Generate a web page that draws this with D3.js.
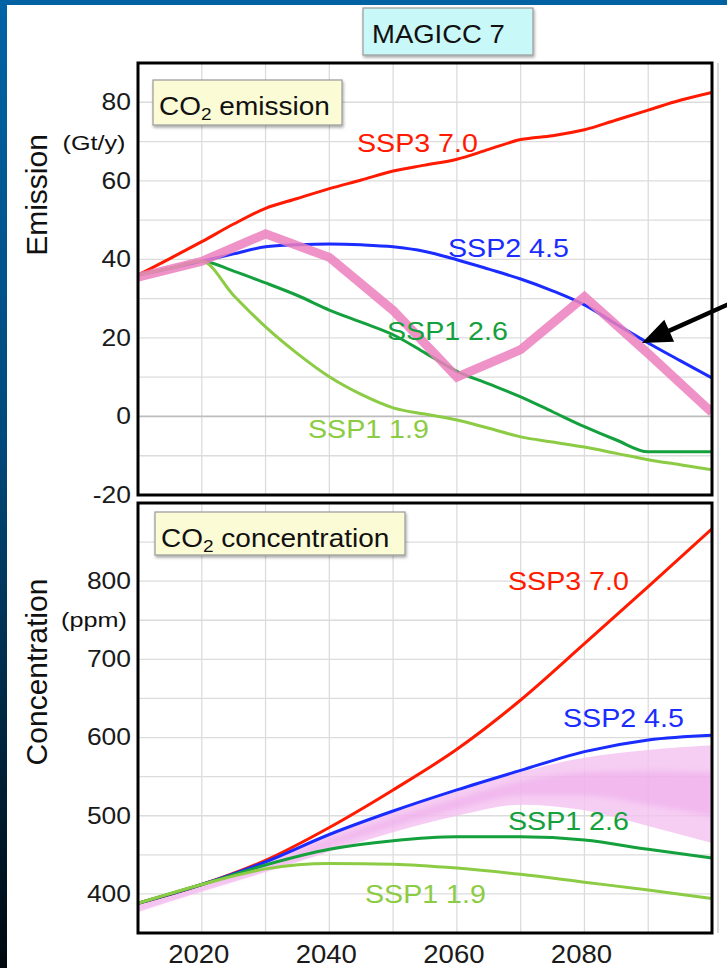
<!DOCTYPE html>
<html><head><meta charset="utf-8">
<script src="https://cdn.jsdelivr.net/npm/d3@7"></script>
<style>html,body{margin:0;padding:0;background:#fff}svg{display:block}text{font-family:"Liberation Sans",Arial,Helvetica,sans-serif}</style>
</head><body>
<svg id="c" width="727" height="968"></svg>
<script>
// ---------- data ----------
const emisYears = [2010,2015,2020,2025,2030,2035,2040,2045,2050,2055,2060,2065,2070,2075,2080,2085,2090,2095,2100];
const ssp370E = [36,40.2,44.5,49,53,55.5,58,60.2,62.5,64,65.5,68,70.5,71.5,73,75.5,78,80.5,82.5];
const ssp245E = [36,37.7,39.5,41.4,43.2,43.7,43.9,43.7,43.2,42,39.9,37.5,35,32,28.4,23.5,18.7,14.2,9.8];
const ssp126E = [36,37.7,39.5,37,34,30.8,27.1,24,20.8,16.2,11.5,8.3,5,1.2,-2.6,-6,-9,-9,-9];
const ssp119E = [36,37.7,39.5,30.8,22.8,16,10.1,5.6,2.2,0.6,-0.9,-3,-5.2,-6.5,-7.8,-9.4,-11,-12.3,-13.6];
const pinkYears = [2010,2020,2030,2040,2050,2060,2070,2080,2090,2100];
const pinkE = [35.5,39.5,46.5,40.5,27,10,17,30.5,16,1];

const concYears = [2010,2020,2030,2040,2050,2060,2070,2080,2090,2100];
const ssp370C = [388,412,443,485,533,585,648,720,793,867];
const ssp245C = [388,412,441,476,506,533,558,582,597,603];
const ssp126C = [388,412,437,457,468,473,473,469,457,446];
const ssp119C = [388,412,432,439,438,433,425,415,405,394];
const bandUpper = [388,411,440,476,505,531,556,574,584,590];
const bandLower = [377,403,428,454,479,500,514,507,487,465];

const xTicks = [2020,2040,2060,2080];
const xGrid = [2020,2030,2040,2050,2060,2070,2080,2090];
const emisTicks = [80,60,40,20,0,-20];
const emisGrid = [-10,0,10,20,30,40,50,60,70,80];
const concTicks = [800,700,600,500,400];
const concGrid = [400,450,500,550,600,650,700,750,800,850];
const arrowTip = {year:2089, value:18.7};
const arrowTail = {year:2102.6, value:28.6};

const series = ["SSP3 7.0","SSP2 4.5","SSP1 2.6","SSP1 1.9"];
const colors = ["#ff1a00","#1a2cff","#14a03c","#8ccc44"];

// ---------- layout ----------
const svg = d3.select("#c");
const L = 138, R = 712;
const top1 = 63, bot1 = 495, top2 = 503, bot2 = 933;
const x = d3.scaleLinear().domain([2010,2100]).range([L,R]);
const yE = d3.scaleLinear().domain([-20,90]).range([bot1,top1]);
const yC = d3.scaleLinear().domain([350,900]).range([bot2,top2]);

// frame
const defs = svg.append("defs");
const lg = defs.append("linearGradient").attr("id","side").attr("x1",0).attr("y1",0).attr("x2",0).attr("y2",1);
lg.append("stop").attr("offset",0).attr("stop-color","#0063a6");
lg.append("stop").attr("offset",0.45).attr("stop-color","#004a7c");
lg.append("stop").attr("offset",1).attr("stop-color","#00080f");
const sh = defs.append("filter").attr("id","shadow").attr("x","-10%").attr("y","-20%").attr("width","130%").attr("height","160%");
sh.append("feDropShadow").attr("dx",1).attr("dy",2).attr("stdDeviation",1.6).attr("flood-color","#000").attr("flood-opacity",0.35);
const bl = defs.append("filter").attr("id","blur").attr("x","-5%").attr("y","-20%").attr("width","110%").attr("height","140%");
bl.append("feGaussianBlur").attr("stdDeviation",2.5);
["c1","c2"].forEach((id,i)=>{
  defs.append("clipPath").attr("id",id).append("rect")
    .attr("x",L).attr("y",i?top2:top1).attr("width",R-L).attr("height",i?bot2-top2:bot1-top1);
});
svg.append("rect").attr("x",0).attr("y",0).attr("width",727).attr("height",5).attr("fill","#0062a3");
svg.append("rect").attr("x",0).attr("y",0).attr("width",7).attr("height",968).attr("fill","url(#side)");
svg.append("line").attr("x1",718).attr("x2",718).attr("y1",top1).attr("y2",bot2).attr("stroke","#cfcfcf").attr("stroke-width",1.5);

function stext(parent, px, py, str, o){
  const g = parent.append("g").attr("transform",`translate(${px},${py}) scale(${o.sx||1.12},1)`);
  const t = g.append("text").attr("font-size",o.size).attr("fill",o.fill||"#111")
    .attr("text-anchor",o.anchor||"start");
  if (o.dom) t.attr("dominant-baseline",o.dom);
  t.text(str);
  return t;
}

function panel(y, top, bot, grid, ticks){
  const g = svg.append("g");
  g.selectAll(".vg").data(xGrid).join("line")
    .attr("x1",d=>x(d)).attr("x2",d=>x(d)).attr("y1",top).attr("y2",bot)
    .attr("stroke","#dcdcdc").attr("stroke-width",1.3);
  g.selectAll(".hg").data(grid).join("line")
    .attr("x1",L).attr("x2",R).attr("y1",d=>y(d)).attr("y2",d=>y(d))
    .attr("stroke",d=>d===0?"#bdbdbd":"#dcdcdc").attr("stroke-width",d=>d===0?1.8:1.3);
  ticks.forEach(t=>stext(svg, 131, y(t), String(t), {size:23, anchor:"end", dom:"central", fill:"#1a1a1a", sx:1.15}));
  return g;
}
panel(yE, top1, bot1, emisGrid, emisTicks);
panel(yC, top2, bot2, concGrid, concTicks);

// ---------- emission lines ----------
const gE = svg.append("g").attr("clip-path","url(#c1)");
const lineE = d3.line().x((d,i)=>x(emisYears[i])).y(d=>yE(d)).curve(d3.curveMonotoneX);
[ssp370E, ssp245E, ssp126E, ssp119E].forEach((s,k)=>{
  gE.append("path").attr("d",lineE(s)).attr("fill","none").attr("stroke",colors[k]).attr("stroke-width",3);
});
const lineP = d3.line().x((d,i)=>x(pinkYears[i])).y(d=>yE(d));
gE.append("path").attr("d",lineP(pinkE)).attr("fill","none").attr("stroke","#ec7fbd")
  .attr("stroke-width",9).attr("stroke-opacity",0.85).attr("stroke-linejoin","miter");

// ---------- concentration ----------
const gC = svg.append("g").attr("clip-path","url(#c2)");
const area = d3.area().x((d,i)=>x(concYears[i])).y0((d,i)=>yC(bandLower[i])).y1(d=>yC(d)).curve(d3.curveMonotoneX);
gC.append("path").attr("d",area(bandUpper)).attr("fill","#f4c0f0").attr("fill-opacity",0.8);
const mid = bandUpper.map((u,i)=>(u+bandLower[i])/2);
const areaMid = d3.area().x((d,i)=>x(concYears[i]))
  .y0((d,i)=>yC(mid[i]-(bandUpper[i]-bandLower[i])*0.22))
  .y1((d,i)=>yC(mid[i]+(bandUpper[i]-bandLower[i])*0.22)).curve(d3.curveMonotoneX);
gC.append("path").attr("d",areaMid(mid)).attr("fill","#eda6ea").attr("fill-opacity",0.5).attr("filter","url(#blur)");
const lineC = d3.line().x((d,i)=>x(concYears[i])).y(d=>yC(d)).curve(d3.curveMonotoneX);
[ssp370C, ssp245C, ssp126C, ssp119C].forEach((s,k)=>{
  gC.append("path").attr("d",lineC(s)).attr("fill","none").attr("stroke",colors[k]).attr("stroke-width",3);
});

// borders
[[top1,bot1],[top2,bot2]].forEach(([t,b])=>{
  svg.append("rect").attr("x",L).attr("y",t).attr("width",R-L).attr("height",b-t)
    .attr("fill","none").attr("stroke","#000").attr("stroke-width",3);
});

// x tick labels
xTicks.forEach(t=>stext(svg, x(t)-3, 954, String(t), {size:25, anchor:"middle", dom:"central", fill:"#1a1a1a", sx:1.1}));

// axis titles
svg.append("text").attr("transform","translate(47,195) rotate(-90)").attr("text-anchor","middle")
  .attr("font-size",30).attr("fill","#111").text("Emission");
svg.append("text").attr("transform","translate(47,672) rotate(-90)").attr("text-anchor","middle")
  .attr("font-size",30).attr("fill","#111").text("Concentration");
stext(svg, 94, 150, "(Gt/y)", {size:21, anchor:"middle", sx:1.2});
stext(svg, 94, 627, "(ppm)", {size:21, anchor:"middle", sx:1.2});

// series labels
const labE = [[357,152],[448,257],[387,340],[308,438]];
const labC = [[508,590],[563,727],[508,830],[365,903]];
labE.forEach(([px,py],k)=>stext(svg, px, py, series[k], {size:26, fill:colors[k], sx:1.1}));
labC.forEach(([px,py],k)=>stext(svg, px, py, series[k], {size:26, fill:colors[k], sx:1.1}));

// boxes
function box(bx, by, bw, bh, fill){
  svg.append("rect").attr("x",bx).attr("y",by).attr("width",bw).attr("height",bh)
    .attr("fill",fill).attr("stroke","#9a9a9a").attr("stroke-width",1.2).attr("filter","url(#shadow)");
}
box(363, 8, 170, 47, "#c9f8f8");
stext(svg, 372, 43, "MAGICC 7", {size:25, sx:1.1});
function co2box(bx, by, bw, bh, rest){
  box(bx, by, bw, bh, "#fbfbd6");
  const t = stext(svg, bx+6, by+35, "CO", {size:25, sx:1.12});
  t.append("tspan").attr("font-size",17).attr("dy",5).text("2");
  t.append("tspan").attr("dy",-5).text(" "+rest);
}
co2box(153, 80, 189, 45, "emission");
co2box(155, 512, 250, 43, "concentration");

// arrow
const tx = x(arrowTip.year), ty = yE(arrowTip.value);
const ax = x(arrowTail.year), ay = yE(arrowTail.value);
const ang = Math.atan2(ty-ay, tx-ax);
const hl = 30, hw = 12;
const bxp = tx - hl*Math.cos(ang), byp = ty - hl*Math.sin(ang);
svg.append("line").attr("x1",ax).attr("y1",ay).attr("x2",bxp+4*Math.cos(ang)).attr("y2",byp+4*Math.sin(ang))
  .attr("stroke","#000").attr("stroke-width",4.5);
svg.append("path").attr("d",d3.line()([
  [tx,ty],
  [bxp - hw*Math.sin(ang), byp + hw*Math.cos(ang)],
  [bxp + hw*Math.sin(ang), byp - hw*Math.cos(ang)]
])+"Z").attr("fill","#000");
</script>
</body></html>
